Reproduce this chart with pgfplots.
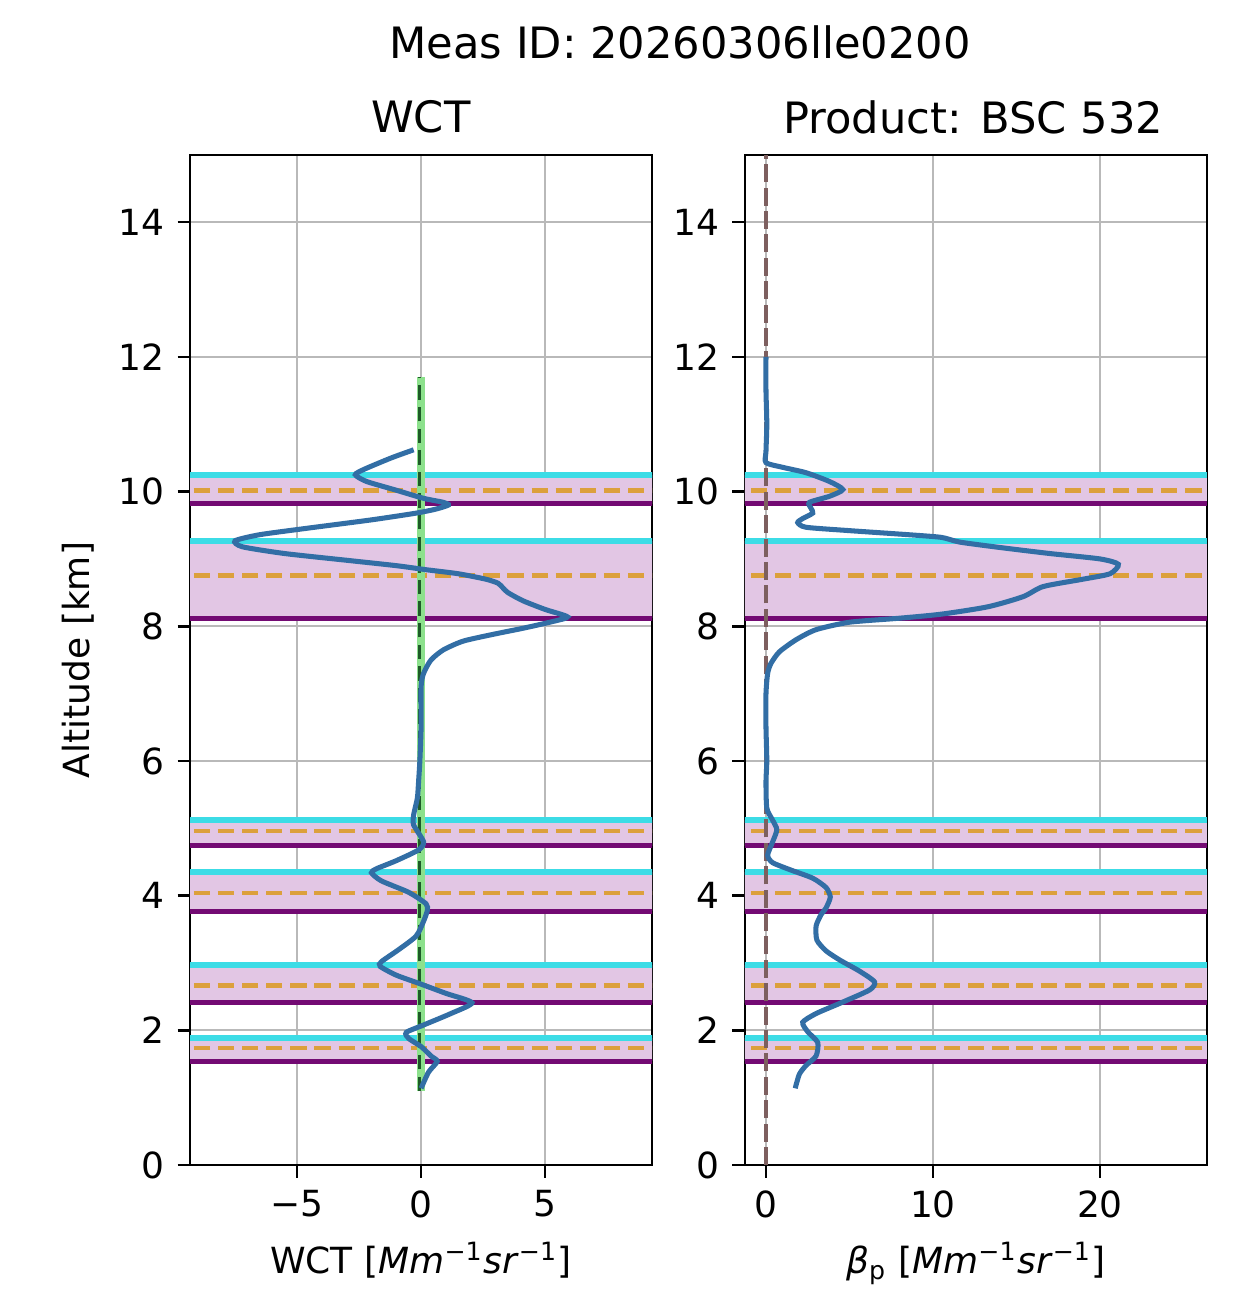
\documentclass[border=0pt]{standalone}
\usepackage{pgfplots}
\pgfplotsset{compat=1.18}
\usepackage{fontspec}
\setmainfont{DejaVu Sans}

\definecolor{topc}{RGB}{60,220,230}
\definecolor{botc}{RGB}{115,10,115}
\definecolor{midc}{RGB}{220,160,60}
\definecolor{fillc}{RGB}{226,198,228}
\definecolor{curve}{RGB}{50,110,165}
\definecolor{molc}{RGB}{125,95,95}
\definecolor{lgreen}{RGB}{140,225,140}
\definecolor{dgreen}{RGB}{30,90,40}

% one detected layer: base, peak, top
\newcommand\layer[3]{%
  \addplot[fill=fillc, draw=none] coordinates {(-50,#1) (50,#1) (50,#3) (-50,#3)};
  \addplot[topc, line width=1.6pt] coordinates {(-50,#3) (50,#3)};
  \addplot[botc, line width=1.4pt] coordinates {(-50,#1) (50,#1)};
  \addplot[midc, line width=1.3pt, dash pattern=on 4.5pt off 2.2pt] coordinates {(-50,#2) (50,#2)};
}
\newcommand\alllayers{%
  \layer{9.82}{10.02}{10.25}
  \layer{8.12}{8.75}{9.27}
  \layer{4.74}{4.96}{5.12}
  \layer{3.77}{4.04}{4.35}
  \layer{2.41}{2.67}{2.97}
  \layer{1.54}{1.74}{1.89}
}

\pgfplotsset{
  panel/.style={
    scale only axis, width=128.3pt, height=280.6pt,
    anchor=south west,
    ymin=0, ymax=15, ytick={0,2,...,14},
    grid=major, grid style={gray!55, line width=0.5pt},
    axis line style={line width=0.7pt},
    tick align=outside, major tick length=3.5pt,
    tick style={black, line width=0.7pt},
    xtick pos=left, ytick pos=left,
    ticklabel style={font=\fontsize{10}{12}\selectfont},
    label style={font=\fontsize{10}{12}\selectfont},
    /pgf/number format/assume math mode=true,
    axis on top=false,
  },
}

\begin{document}
\begin{tikzpicture}
\path[use as bounding box] (0,0) rectangle (346.1pt,364.4pt);

\begin{axis}[panel, at={(52.8pt,40.8pt)},
  xmin=-9.31, xmax=9.31, xtick={-5,0,5}, xticklabels={−5,0,5},
  xlabel={WCT [\textit{Mm}\textsuperscript{−1}\textit{sr}\textsuperscript{−1}]},
  ylabel={Altitude [km]}]
\alllayers
\addplot[lgreen, line width=2.4pt] coordinates {(0,1.1) (0,11.7)};
\addplot[dgreen, line width=0.8pt, dash pattern=on 4pt off 2pt] coordinates {(-0.05,1.1) (-0.05,11.7)};
\addplot[curve, line width=1.4pt, smooth, tension=0.4] coordinates {
(-0.3,10.62) (-1.2,10.50) (-2.3,10.33) (-2.65,10.25) (-2.2,10.15) (-1.0,10.02)
(0.1,9.90) (0.9,9.84) (1.1,9.80) (0.6,9.74) (-0.2,9.68) (-2.0,9.58) (-4.5,9.46)
(-6.5,9.36) (-7.5,9.27) (-7.2,9.18) (-5.5,9.08) (-3.0,8.98) (-1.0,8.90) (0.2,8.84)
(1.5,8.78) (2.6,8.70) (3.1,8.64) (3.3,8.57) (3.5,8.50) (4.1,8.38) (5.0,8.25)
(5.9,8.14) (5.3,8.07) (4.1,7.97) (2.9,7.88) (1.7,7.78) (0.9,7.65) (0.4,7.50)
(0.1,7.30) (0.0,7.10) (0.0,6.50) (-0.05,6.00) (-0.1,5.70) (-0.15,5.45) (-0.3,5.20)
(-0.3,5.05) (0.1,4.80) (-0.1,4.68) (-1.0,4.52) (-1.8,4.40) (-2.0,4.34) (-1.6,4.22)
(-0.5,4.05) (0.2,3.88) (0.25,3.78) (0.1,3.62) (-0.2,3.40) (-0.9,3.20) (-1.6,3.02)
(-1.65,2.95) (-1.0,2.82) (-0.1,2.70) (1.0,2.55) (2.05,2.41) (1.2,2.25) (0.1,2.08)
(-0.6,1.97) (-0.5,1.88) (0.0,1.76) (0.4,1.62) (0.65,1.54) (0.3,1.38) (0.0,1.14)
};
\end{axis}

\begin{axis}[panel, at={(206.9pt,40.8pt)},
  xmin=-1.26, xmax=26.4, xtick={0,10,20},
  xlabel={\textit{β}\textsubscript{p} [\textit{Mm}\textsuperscript{−1}\textit{sr}\textsuperscript{−1}]}]
\alllayers
\addplot[molc, line width=1.2pt, dash pattern=on 5pt off 1.5pt] coordinates {(0,0) (0,15)};
\addplot[curve, line width=1.4pt, smooth, tension=0.4] coordinates {
(0.0,12.0) (0.0,11.5) (0.05,11.0) (0.0,10.6) (0.0,10.43) (1.0,10.36) (2.4,10.28)
(3.8,10.15) (4.6,10.03) (3.8,9.93) (2.6,9.84) (2.7,9.75) (2.8,9.68) (2.2,9.60)
(1.9,9.54) (2.4,9.47) (5.0,9.42) (8.5,9.36) (10.5,9.32) (11.6,9.25) (14.0,9.17)
(17.0,9.08) (20.0,9.00) (21.1,8.92) (20.6,8.78) (19.0,8.70) (16.6,8.59) (15.4,8.44)
(13.3,8.29) (10.5,8.18) (8.0,8.12) (5.0,8.06) (3.0,7.95) (1.8,7.80) (0.8,7.62)
(0.3,7.45) (0.1,7.30) (0.0,7.0) (0.0,6.5) (0.05,6.0) (0.0,5.7) (0.05,5.30)
(0.4,5.12) (0.65,4.98) (0.4,4.80) (0.1,4.60) (0.4,4.49) (1.5,4.38) (2.8,4.26)
(3.6,4.12) (3.85,3.98) (3.6,3.82) (3.3,3.72) (3.0,3.55) (3.05,3.34) (3.6,3.18)
(4.45,3.04) (5.6,2.88) (6.5,2.72) (6.2,2.60) (4.5,2.41) (3.0,2.25) (2.2,2.12)
(2.5,1.98) (3.1,1.82) (3.0,1.62) (2.4,1.48) (2.0,1.35) (1.75,1.14)
};
\end{axis}

\node[font=\fontsize{12}{14}\selectfont] at (188.9pt,352.7pt) {Meas ID: 20260306lle0200};
\node[font=\fontsize{12}{14}\selectfont] at (116.9pt,331.9pt) {WCT};
\node[font=\fontsize{12}{14}\selectfont] at (270.3pt,331.9pt) {Product: BSC 532};
\end{tikzpicture}
\end{document}
